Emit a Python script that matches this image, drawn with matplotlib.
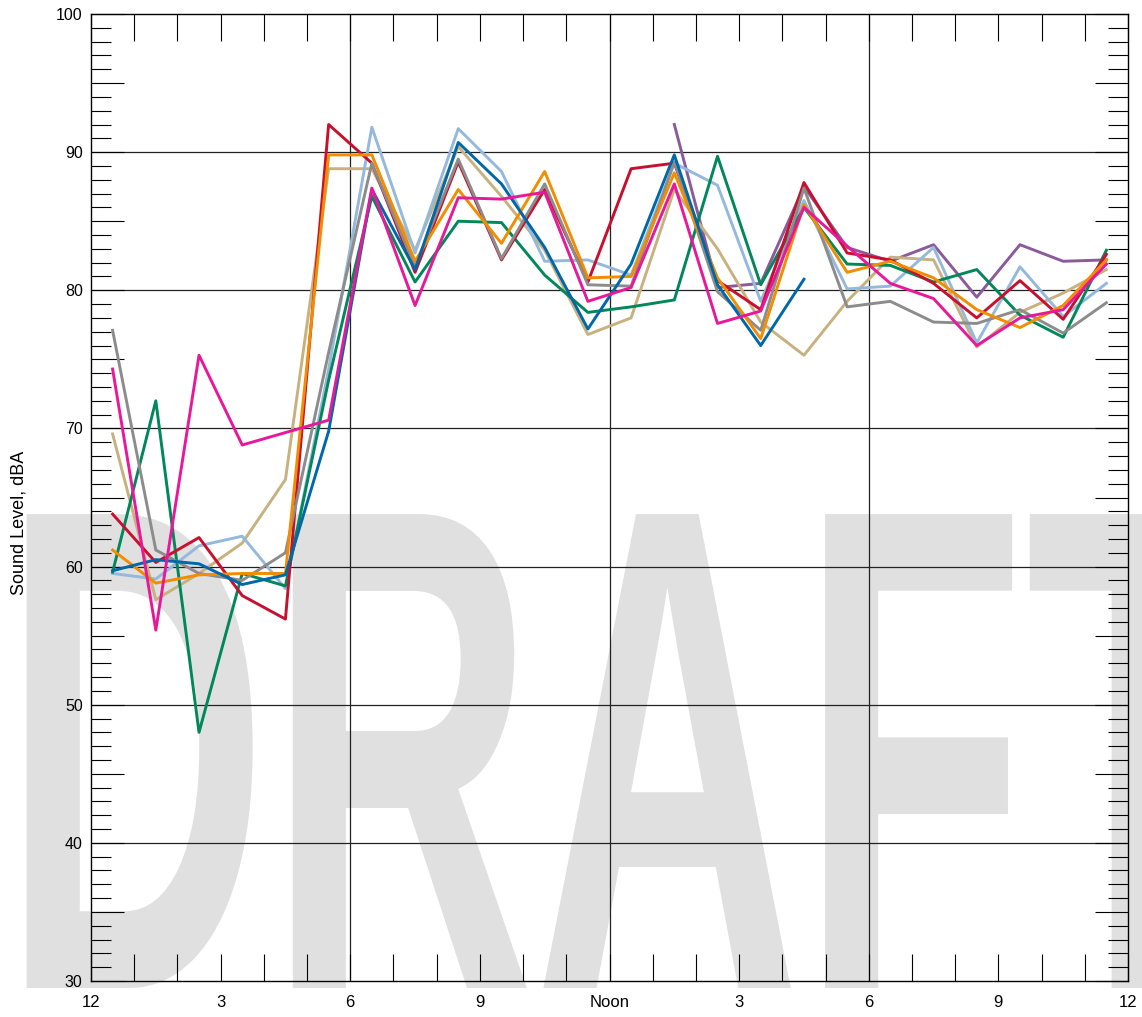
import numpy as np
import matplotlib
matplotlib.use("Agg")
import matplotlib.pyplot as plt
from matplotlib.patheffects import AbstractPathEffect
from matplotlib.transforms import Affine2D

plt.rcParams['font.family'] = ['Liberation Sans', 'DejaVu Sans']

nan = np.nan
# hourly readings, plotted at the half hour
hours = np.arange(24) + 0.5

gray = [77.1, 61.2, 59.5, 59.0, 61.0, 75.5, 89.2, 81.7, 89.5, 82.3, 87.7, 80.4,
        80.3, 89.3, 79.9, 77.1, 87.4, 78.8, 79.2, 77.7, 77.6, 78.6, 76.9, 79.1]
magenta = [74.3, 55.4, 75.3, 68.8, 69.7, 70.6, 87.4, 78.9, 86.7, 86.6, 87.1, 79.2,
           80.2, 87.7, 77.6, 78.5, 86.0, 83.2, 80.5, 79.4, 76.0, 78.0, 78.6, 81.9]
tan = [69.6, 57.6, 59.5, 61.7, 66.3, 88.8, 88.8, 82.9, 90.4, 86.8, 82.9, 76.8,
       78.0, 87.3, 83.0, 77.7, 75.3, 79.2, 82.4, 82.2, 75.9, 78.4, 79.8, 81.5]
crimson = [63.8, 60.3, 62.1, 57.9, 56.2, 92.0, 89.2, 81.3, 89.3, 82.2, 87.3, 80.6,
           88.8, 89.2, 80.7, 78.6, 87.8, 82.7, 82.2, 80.5, 78.0, 80.7, 77.9, 82.6]
orange = [61.2, 58.8, 59.4, 59.5, 59.5, 89.8, 89.8, 82.1, 87.3, 83.4, 88.6, 80.9,
          81.0, 88.5, 80.9, 76.5, 86.2, 81.3, 82.1, 80.9, 78.6, 77.3, 78.9, 82.2]
green = [59.6, 72.0, 48.0, 59.5, 58.6, 73.5, 86.8, 80.6, 85.0, 84.9, 81.1, 78.4,
         78.8, 79.3, 89.7, 80.4, 86.0, 81.9, 81.8, 80.6, 81.5, 78.2, 76.6, 82.9]
lightblue = [59.5, 59.1, 61.5, 62.2, 58.4, 74.3, 91.8, 82.7, 91.7, 88.6, 82.1, 82.2,
             81.1, 89.2, 87.6, 79.2, 86.5, 80.1, 80.3, 83.1, 76.2, 81.7, 78.1, 80.5]
blue = [59.7, 60.5, 60.2, 58.7, 59.4, 69.8, 87.3, 81.5, 90.7, 87.7, 83.1, 77.2,
        81.9, 89.8, 80.4, 76.0, 80.8, nan, nan, nan, nan, nan, nan, nan]
purple = [nan] * 13 + [92.0, 80.2, 80.5, 87.5, 83.1, 82.1, 83.3, 79.5, 83.3, 82.1, 82.2]

series = [
    (purple, '#8a5a9b'),
    (tan, '#c7b27f'),
    (lightblue, '#94b9dd'),
    (green, '#00875a'),
    (crimson, '#c8102e'),
    (gray, '#8c8c8c'),
    (orange, '#f28c00'),
    (blue, '#0068a8'),
    (magenta, '#e8189a'),
]

hour_labels = {0: '12', 3: '3', 6: '6', 9: '9', 12: 'Noon', 15: '3', 18: '6', 21: '9', 24: '12'}


class Squeeze(AbstractPathEffect):
    # squash glyphs horizontally about x0 (display pixels)
    def __init__(self, sx, x0):
        super().__init__()
        self.sx = sx
        self.x0 = x0

    def draw_path(self, renderer, gc, tpath, affine, rgbFace=None):
        t = affine + Affine2D().translate(-self.x0, 0).scale(self.sx, 1).translate(self.x0, 0)
        renderer.draw_path(gc, tpath, t, rgbFace)


W, H = 1142, 1017
fig = plt.figure(figsize=(W / 100, H / 100), dpi=100)
ax = fig.add_axes([91 / W, 36 / H, 1037 / W, 967 / H])
ax.set_facecolor('none')

wm_x = 2
fig.text(wm_x / W, 29 / H, 'DRAFT', fontsize=496, fontweight='bold', color='#e0e0e0',
         ha='left', va='baseline', zorder=-1, path_effects=[Squeeze(0.535, wm_x)])

for y in range(40, 100, 10):
    ax.axhline(y, color='#222222', lw=0.9, zorder=1)
for x in (6, 12, 18):
    ax.axvline(x, color='#222222', lw=0.9, zorder=1)

for vals, c in series:
    ax.plot(hours, vals, color=c, lw=2.1, zorder=3)

ax.set_xlim(0, 24)
ax.set_ylim(30, 100)

ax.set_xticks(range(25))
ax.set_xticklabels([hour_labels.get(h, '') for h in range(25)])
ax.set_yticks(range(30, 101, 5))
ax.set_yticklabels([str(v) if v % 10 == 0 else '' for v in range(30, 101, 5)])
ax.set_yticks(range(30, 101), minor=True)

ax.tick_params(axis='x', which='major', direction='in', length=19.5, width=0.8,
               top=True, labelsize=12, pad=10)
ax.tick_params(axis='y', which='major', direction='in', length=23.5, width=0.8,
               right=True, labelsize=11.5, pad=6)
ax.tick_params(axis='y', which='minor', direction='in', length=14.4, width=0.8,
               right=True)

for s in ax.spines.values():
    s.set_linewidth(1.0)
    s.set_color('black')

ax.set_ylabel('Sound Level, dBA', fontsize=13)
ax.yaxis.set_label_coords(-0.0617, 0.474)

fig.savefig('out.png', dpi=100)
